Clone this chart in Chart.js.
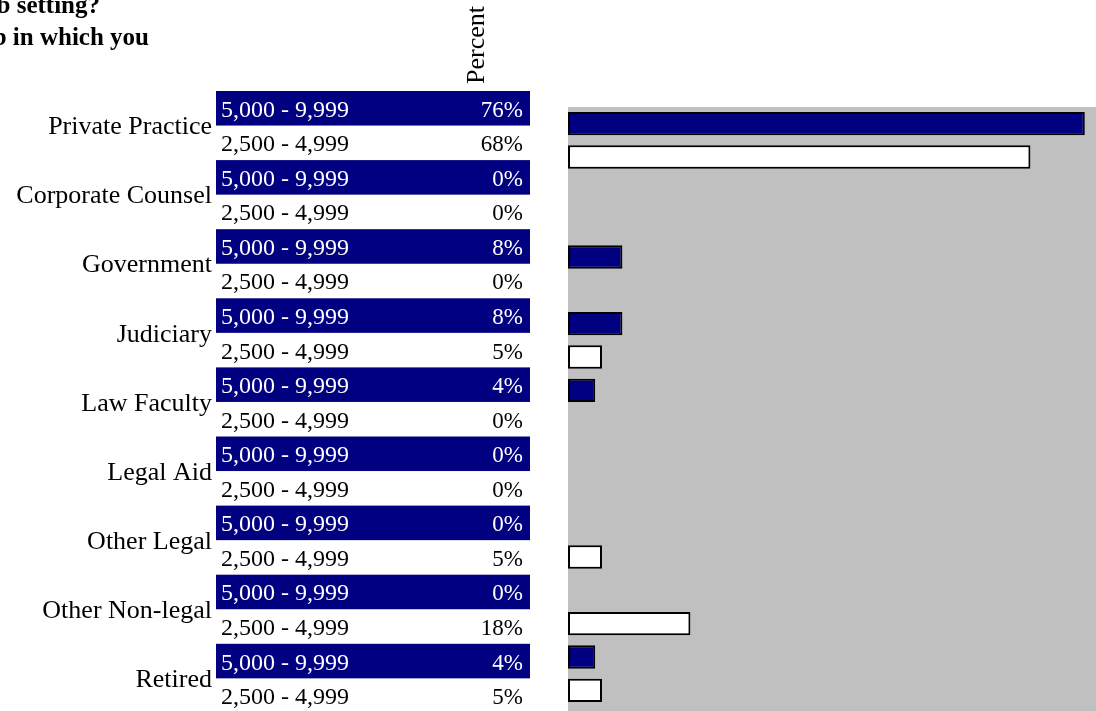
<!DOCTYPE html>
<html>
<head>
<meta charset="utf-8">
<script src="https://cdn.jsdelivr.net/npm/chart.js@4"></script>
<style>
  html, body { margin: 0; padding: 0; background: #fff; overflow: hidden; }
  #holder { position: relative; width: 1096px; height: 711px; overflow: hidden; }
  canvas { display: block; }
</style>
</head>
<body>
<div id="holder">
  <canvas id="setting" width="1112" height="711"></canvas>
</div>
<script>
// question text (left part is cut off in the original picture)
var titleLines = ["Which best describes your current job setting?", "If more than one, choose the job in which you"];
var categories = ["Private Practice", "Corporate Counsel", "Government", "Judiciary", "Law Faculty",
                  "Legal Aid", "Other Legal", "Other Non-legal", "Retired"];
var seriesNames = ["5,000 - 9,999", "2,500 - 4,999"];
var highValues = [76, 0, 8, 8, 4, 0, 0, 0, 4];
var lowValues = [68, 0, 0, 5, 0, 0, 5, 18, 5];
var columnTitle = "Percent";

var navy = "#000080";
var serif = "'Liberation Serif', 'Times New Roman', serif";

// gray plot background, stretched to the canvas edge
var plotBack = {
  id: "plotBack",
  beforeDraw: function(chart) {
    var ctx = chart.ctx, a = chart.chartArea;
    ctx.save();
    ctx.fillStyle = "#c0c0c0";
    ctx.fillRect(a.left, a.top, chart.width - a.left, chart.height - a.top);
    ctx.restore();
  }
};

// the data table on the left, plus title and column header
var sideTable = {
  id: "sideTable",
  afterDraw: function(chart) {
    var ctx = chart.ctx;
    var top = 91, rowH = 34.55, left = 216, right = 530;
    var series = [highValues, lowValues];
    ctx.save();

    ctx.fillStyle = "#000";
    ctx.font = "bold 25px " + serif;
    ctx.textAlign = "right";
    ctx.textBaseline = "alphabetic";
    ctx.fillText(titleLines[0], 100, 13);
    ctx.fillText(titleLines[1], 149, 45);

    ctx.save();
    ctx.translate(484, 84);
    ctx.rotate(-Math.PI / 2);
    ctx.font = "26px " + serif;
    ctx.textAlign = "left";
    ctx.fillText(columnTitle, 0, 0);
    ctx.restore();

    for (var i = 0; i < categories.length; i++) {
      for (var s = 0; s < 2; s++) {
        var y = top + (i * 2 + s) * rowH;
        if (s == 0) {
          ctx.fillStyle = navy;
          ctx.fillRect(left, y, right - left, rowH);
        }
        ctx.fillStyle = s == 0 ? "#fff" : "#000";
        ctx.font = "24px " + serif;
        ctx.textAlign = "left";
        ctx.fillText(seriesNames[s], left + 5, y + 25.7);
        ctx.font = "23px " + serif;
        ctx.textAlign = "right";
        ctx.fillText(series[s][i] + "%", right - 7, y + 25.7);
      }
      ctx.fillStyle = "#000";
      ctx.font = "26px " + serif;
      ctx.textAlign = "right";
      ctx.fillText(categories[i], 212, top + (i * 2 + 1) * rowH + 8.7);
    }
    ctx.restore();
  }
};

function ready() {
  var ctx = document.getElementById("setting").getContext("2d");
  new Chart(ctx, {
    type: "bar",
    data: {
      labels: categories,
      datasets: [{
        label: seriesNames[0],
        data: highValues,
        backgroundColor: navy,
        borderColor: "#000",
        borderWidth: 2,
        borderSkipped: false,
        categoryPercentage: 1,
        barPercentage: 0.7
      }, {
        label: seriesNames[1],
        data: lowValues,
        backgroundColor: "#fff",
        borderColor: "#000",
        borderWidth: 2,
        borderSkipped: false,
        categoryPercentage: 1,
        barPercentage: 0.7
      }]
    },
    options: {
      indexAxis: "y",
      responsive: false,
      animation: false,
      layout: { padding: { left: 568, top: 107, right: 0, bottom: 4 } },
      scales: {
        x: { display: false, min: 0, max: 80 },
        y: { display: false }
      },
      plugins: { legend: { display: false }, tooltip: { enabled: false } }
    },
    plugins: [plotBack, sideTable]
  });
}

ready();
</script>
</body>
</html>
